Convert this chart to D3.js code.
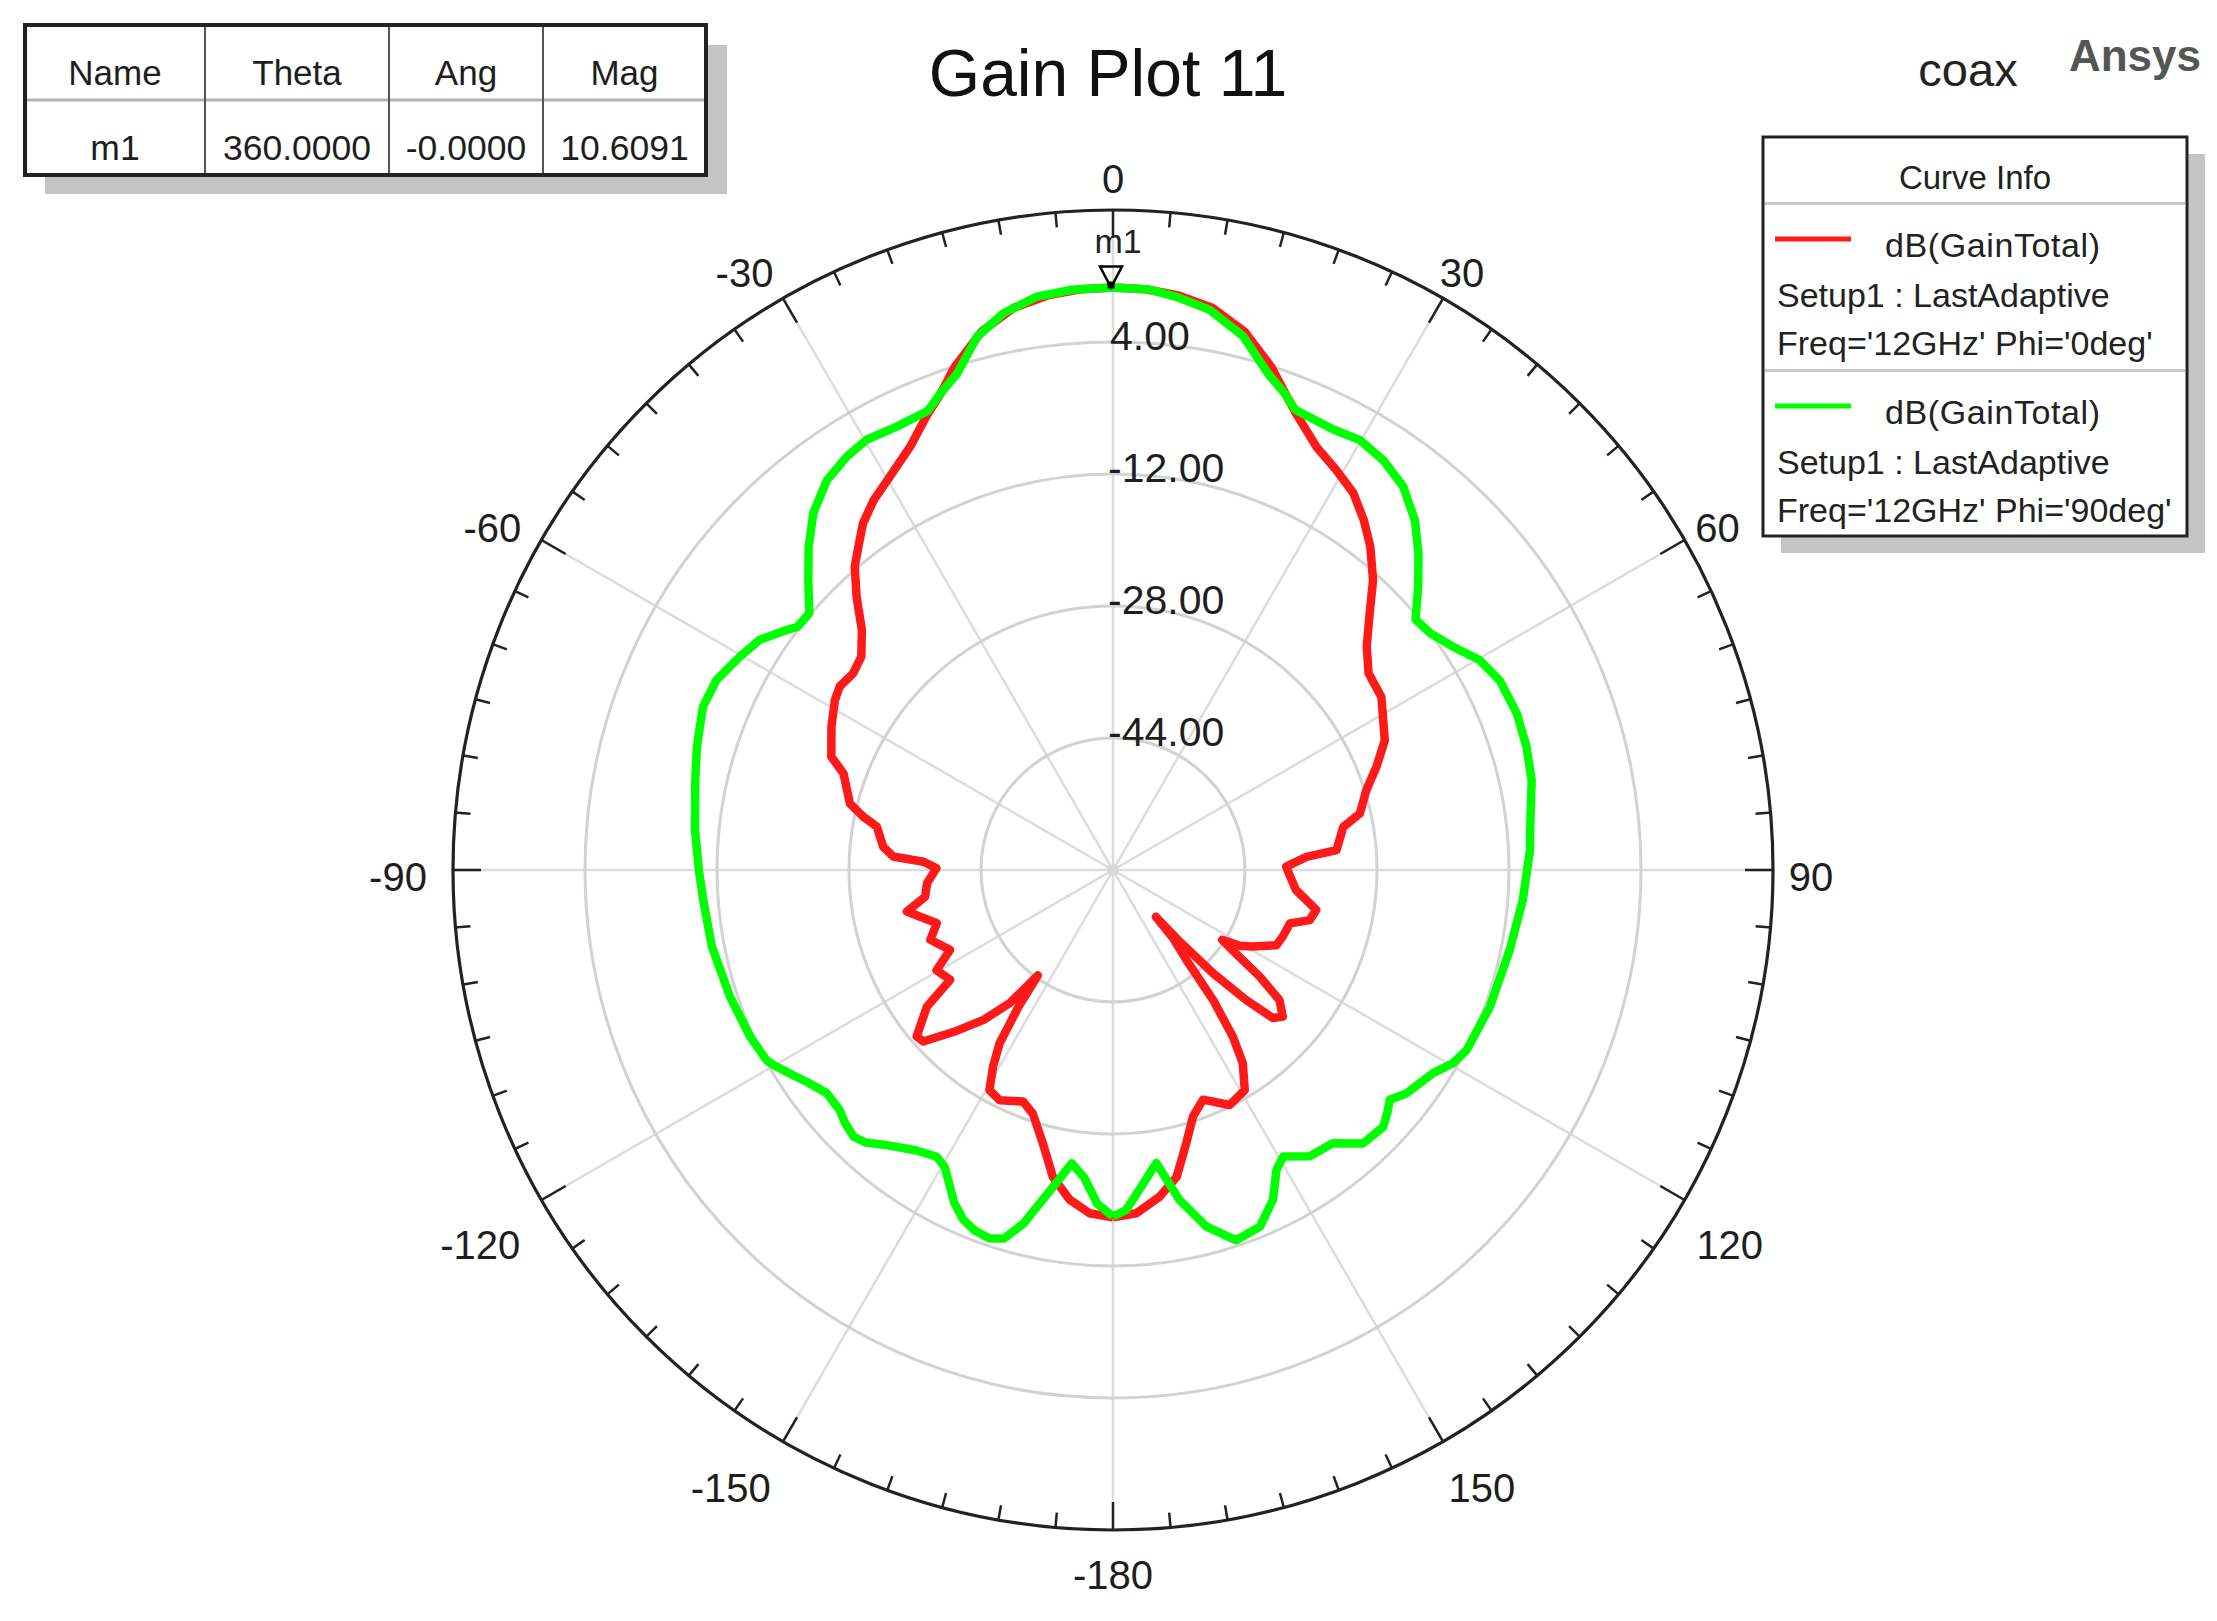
<!DOCTYPE html>
<html><head><meta charset="utf-8">
<script src="https://cdn.jsdelivr.net/npm/d3@7"></script>
<style>
html,body{margin:0;padding:0;background:#fff;}
svg{display:block;font-family:"Liberation Sans",Arial,Helvetica,sans-serif;}
</style>
</head><body>
<svg id="chart" width="2217" height="1621"></svg>
<script>
// ---------------- data ----------------
const chartTitle = "Gain Plot 11";
const designName = "coax";
const brandName = "Ansys";

const angleTicks  = [-180, -150, -120, -90, -60, -30, 0, 30, 60, 90, 120, 150];
const angleLabels = ["-180", "-150", "-120", "-90", "-60", "-30", "0", "30", "60", "90", "120", "150"];
const ringValues  = [-44, -28, -12, 4];
const ringLabels  = ["-44.00", "-28.00", "-12.00", "4.00"];
const radialDomain = [-60, 20];

// dB(GainTotal), Phi = 0deg  (red)
const thetaRed = [-180,-176.1,-172.5,-168.9,-165.6,-161.8,-158.8,-153.8,-150.7,-148.6,-146.8,-145.3,-144.5,-142.2,-139.2,-135.5,-132.1,-130.3,-126.3,-124.0,-119.6,-116.1,-110.9,-106.8,-101.4,-98.1,-94.1,-89.4,-87.5,-86.5,-84.2,-79.6,-78.0,-75.8,-70.3,-68.1,-63.0,-58.6,-56.1,-52.9,-49.7,-46.3,-43.2,-40.4,-38.2,-35.8,-32.9,-29.6,-25.6,-22.2,-20,-17.5,-13.7,-10,-6.5,-3.2,0,3.2,6.5,10,13.7,17.5,20,22,25.7,29.2,32.5,35.6,38.5,41.9,45.0,48.6,52.4,57.2,64.5,68.6,72.5,77.1,79.4,84.9,86.1,88.9,91.6,96.2,101.1,104.3,106.8,111.4,114.7,118.7,121.0,122.6,124.2,126.0,128.0,130.8,132.8,134.3,135.9,137.0,137.5,138.6,140.8,142.4,144.3,146.1,149.1,153.6,158.6,162.0,165.0,168.3,171.9,176.1,180];
const gainRed = [-17.9,-18.3,-19.7,-22.1,-25.8,-28.9,-29.9,-28.9,-29.4,-32.1,-34.9,-40.0,-44.3,-39.6,-36.0,-32.5,-29.0,-28.8,-32.0,-36.2,-35.4,-38.0,-36.3,-37.7,-34.5,-37.0,-37.4,-38.6,-37.0,-33.3,-32.0,-30.9,-29.1,-27.1,-25.3,-23.2,-21.7,-20.5,-20.1,-20.5,-20.0,-17.9,-14.6,-11.7,-10.1,-8.2,-6.6,-5.2,-3.1,-0.4,1.3,3.9,7.2,9.2,10.1,10.5,10.6,10.5,10.1,9.2,7.2,3.9,1.3,-0.5,-3.1,-4.5,-5.8,-7.8,-9.9,-12.8,-16.0,-19.0,-20.9,-21.3,-23.5,-25.7,-27.8,-29.3,-31.6,-32.8,-36.5,-39.0,-38.6,-37.7,-34.9,-35.4,-37.6,-37.9,-38.2,-40.7,-42.2,-44.3,-42.0,-38.0,-34.4,-32.8,-33.6,-37.4,-42.6,-48.0,-52.3,-49.0,-45.9,-40.1,-35.1,-31.8,-28.9,-28.2,-30.1,-28.6,-25.7,-22.0,-20.0,-18.3,-17.9];

// dB(GainTotal), Phi = 90deg  (green)
const thetaGreen = [-180,-177.3,-174.6,-172.0,-169.3,-165.8,-163.5,-161.5,-159.0,-156.8,-154.5,-152.8,-150.5,-148.4,-145.0,-142.5,-140.1,-137.8,-135.8,-133.5,-131.3,-127.9,-125.0,-122.2,-120.0,-118.8,-114.7,-108.3,-100.8,-94.2,-90.0,-84.5,-77.8,-73.5,-68.3,-64.4,-60.2,-56.9,-53.5,-52.4,-49.8,-46.4,-43.3,-40.0,-36.3,-32.8,-29.8,-26.0,-22.0,-19.8,-17.5,-14.3,-11.1,-7.6,-4.0,0,3.5,6.3,9.8,13.7,17.4,19.8,21.6,26.5,29.9,33.4,37.1,40.8,44.0,47.1,50.4,53.3,56.7,60.2,63.9,68.8,73.4,77.9,84.5,87.3,94.2,101.4,109.9,117.0,119.6,122.4,127.3,129.7,131.5,133.6,137.6,141.2,145.5,149.3,151.4,154.1,157.6,161.6,165.3,168.6,171.6,174.5,177.8,180];
const gainGreen = [-18.0,-19.5,-22.6,-24.1,-20.9,-15.8,-13.4,-12.9,-13.2,-13.9,-15.3,-16.8,-18.6,-19.2,-18.5,-17.6,-16.6,-15.4,-14.9,-15.3,-15.9,-16.0,-15.0,-13.7,-12.6,-12.1,-11.6,-11.1,-10.5,-10.2,-9.8,-9.1,-8.2,-7.4,-6.5,-6.7,-7.9,-8.9,-11.0,-11.7,-11.8,-9.0,-6.2,-3.5,-1.4,-0.4,0.1,-0.2,0.0,1.5,3.0,6.7,8.8,10.1,10.5,10.6,10.5,9.9,8.9,6.6,3.0,1.4,0.0,-0.3,0.1,-0.5,-1.7,-4.0,-6.7,-9.5,-12.4,-12.0,-10.7,-8.8,-7.8,-7.5,-7.7,-8.1,-9.2,-9.4,-10.2,-10.95,-11.4,-11.9,-12.6,-14.05,-15.3,-16.4,-15.6,-14.8,-15.1,-17.5,-17.9,-19.6,-18.6,-15.6,-13.25,-12.7,-15.3,-19.2,-24.1,-21.8,-18.75,-18.0];

const seriesNames  = ["dB(GainTotal)", "dB(GainTotal)"];
const seriesSetup  = ["Setup1 : LastAdaptive", "Setup1 : LastAdaptive"];
const seriesFreq   = ["Freq='12GHz' Phi='0deg'", "Freq='12GHz' Phi='90deg'"];
const seriesColors = ["#ff1a1a", "#00ff00"];

const tableHeaders = ["Name", "Theta", "Ang", "Mag"];
const tableRow     = ["m1", "360.0000", "-0.0000", "10.6091"];
const markerName = "m1";
const markerTheta = 0;
const markerGain = 10.6091;

// ---------------- drawing ----------------
const svg = d3.select("#chart");
svg.append("rect").attr("width", 2217).attr("height", 1621).attr("fill", "#fff");

const cx = 1113, cy = 870, R = 660;
const rScale = d3.scaleLinear().domain(radialDomain).range([0, R]);
const aScale = d3.scaleLinear().domain([-180, 180]).range([-Math.PI, Math.PI]);
const px = (deg, rad) => rad * Math.sin(aScale(deg));
const py = (deg, rad) => -rad * Math.cos(aScale(deg));

const g = svg.append("g").attr("transform", `translate(${cx},${cy})`);

// spokes every 30 deg
const spokeAngles = d3.range(-180, 180, 30);
g.selectAll("line.spoke").data(spokeAngles).join("line")
  .attr("class", "spoke")
  .attr("x1", 0).attr("y1", 0)
  .attr("x2", d => px(d, R)).attr("y2", d => py(d, R))
  .attr("stroke", "#dcdcdc").attr("stroke-width", 2.5);

// rings
g.selectAll("circle.ring").data(ringValues).join("circle")
  .attr("class", "ring").attr("r", d => rScale(d))
  .attr("fill", "none").attr("stroke", "#d2d2d2").attr("stroke-width", 3);

g.append("circle").attr("r", 6).attr("fill", "#d8d8d8");

// outer circle
g.append("circle").attr("r", R).attr("fill", "none")
  .attr("stroke", "#222").attr("stroke-width", 3.2);

// ticks every 5 deg
const tickAngles = d3.range(-180, 180, 5);
g.selectAll("line.tick").data(tickAngles).join("line")
  .attr("class", "tick")
  .attr("x1", d => px(d, R + 1)).attr("y1", d => py(d, R + 1))
  .attr("x2", d => px(d, R - (d % 30 === 0 ? 28 : 15)))
  .attr("y2", d => py(d, R - (d % 30 === 0 ? 28 : 15)))
  .attr("stroke", "#222").attr("stroke-width", 2.5);

// angle labels (placed just outside the outer circle, pushed out by their own box)
const labelPos = (d, i) => {
  const t = aScale(d);
  let s = Math.sin(t), c = Math.cos(t);
  if (Math.abs(s) < 1e-9) s = 0;
  if (Math.abs(c) < 1e-9) c = 0;
  const lab = angleLabels[i];
  const neg = lab.startsWith("-");
  const halfW = lab.length * 11 - (neg ? 4 : 0);
  const halfH = 15;
  const low = Math.max(0, -c);
  let x = 676 * s + halfW * s + Math.sign(s) * 22 * Math.pow(low, 3);
  let y = -676 * c - halfH * c + 14 * (1 - c) / 2 + 58 * low * Math.pow(Math.abs(s), 3);
  if (neg && s !== 0) x -= 10 + (c > 0.7 ? 6 : 0);
  return [x, y];
};
g.selectAll("text.alabel").data(angleTicks).join("text")
  .attr("class", "alabel")
  .attr("x", (d, i) => labelPos(d, i)[0])
  .attr("y", (d, i) => labelPos(d, i)[1])
  .attr("text-anchor", "middle").attr("dominant-baseline", "central")
  .attr("font-size", 40).attr("fill", "#1e1e1e")
  .text((d, i) => angleLabels[i]);

// radial labels
g.selectAll("text.rlabel").data(ringValues).join("text")
  .attr("class", "rlabel")
  .attr("x", (d, i) => ringLabels[i].startsWith("-") ? -5 : -3)
  .attr("y", d => -rScale(d) + 8)
  .attr("font-size", 41).attr("fill", "#1e1e1e")
  .text((d, i) => ringLabels[i]);

// curves
const radial = d3.lineRadial()
  .angle(d => aScale(d[0]))
  .radius(d => rScale(d[1]));

const redData = thetaRed.map((t, i) => [t, gainRed[i]]);
const greenData = thetaGreen.map((t, i) => [t, gainGreen[i]]);

g.append("path").datum(redData).attr("d", radial)
  .attr("fill", "none").attr("stroke", seriesColors[0]).attr("stroke-width", 8.5)
  .attr("stroke-linejoin", "round");
g.append("path").datum(greenData).attr("d", radial)
  .attr("fill", "none").attr("stroke", seriesColors[1]).attr("stroke-width", 8.5)
  .attr("stroke-linejoin", "round");

// marker
const mx = px(markerTheta, rScale(markerGain)), my = py(markerTheta, rScale(markerGain));
g.append("path")
  .attr("d", `M${mx - 13},${my - 21}L${mx + 9},${my - 21}L${mx - 2},${my}Z`)
  .attr("fill", "none").attr("stroke", "#000").attr("stroke-width", 2.5);
g.append("rect").attr("x", mx - 5.5).attr("y", my - 6).attr("width", 7).attr("height", 7).attr("fill", "#000");
g.append("text").attr("x", mx + 5).attr("y", my - 34)
  .attr("text-anchor", "middle").attr("font-size", 34).attr("fill", "#222")
  .text(markerName);

// title and corner texts
svg.append("text").attr("x", 1108).attr("y", 96).attr("text-anchor", "middle")
  .attr("font-size", 66).attr("fill", "#111").text(chartTitle);
svg.append("text").attr("x", 1968).attr("y", 86).attr("text-anchor", "middle")
  .attr("font-size", 47).attr("fill", "#222").text(designName);
svg.append("text").attr("x", 2135).attr("y", 71).attr("text-anchor", "middle")
  .attr("font-size", 44).attr("font-weight", "bold").attr("fill", "#555").text(brandName);

// marker table
const tb = svg.append("g");
const colEdges = [25, 205, 389, 543, 706];
tb.append("rect").attr("x", 45).attr("y", 45).attr("width", 682).attr("height", 149).attr("fill", "#c4c4c4");
tb.append("rect").attr("x", 25).attr("y", 25).attr("width", 681).attr("height", 150)
  .attr("fill", "#fff");
tb.append("line").attr("x1", 25).attr("x2", 706).attr("y1", 100).attr("y2", 100)
  .attr("stroke", "#b4b4b4").attr("stroke-width", 3);
tb.selectAll("line.col").data(colEdges.slice(1, -1)).join("line")
  .attr("class", "col").attr("x1", d => d).attr("x2", d => d).attr("y1", 25).attr("y2", 175)
  .attr("stroke", "#555").attr("stroke-width", 2);
tb.append("rect").attr("x", 25).attr("y", 25).attr("width", 681).attr("height", 150)
  .attr("fill", "none").attr("stroke", "#222").attr("stroke-width", 4);
tb.selectAll("text.hdr").data(tableHeaders).join("text")
  .attr("class", "hdr")
  .attr("x", (d, i) => (colEdges[i] + colEdges[i + 1]) / 2).attr("y", 85)
  .attr("text-anchor", "middle").attr("font-size", 35).attr("fill", "#1e1e1e").text(d => d);
tb.selectAll("text.val").data(tableRow).join("text")
  .attr("class", "val")
  .attr("x", (d, i) => (colEdges[i] + colEdges[i + 1]) / 2).attr("y", 160)
  .attr("text-anchor", "middle").attr("font-size", 35.5).attr("fill", "#1e1e1e").text(d => d);

// legend
const lg = svg.append("g");
const L = {x: 1763, y: 137, w: 424, h: 399};
lg.append("rect").attr("x", L.x + 18).attr("y", L.y + 17).attr("width", L.w).attr("height", L.h).attr("fill", "#c4c4c4");
lg.append("rect").attr("x", L.x).attr("y", L.y).attr("width", L.w).attr("height", L.h)
  .attr("fill", "#fff").attr("stroke", "#222").attr("stroke-width", 3);
lg.append("text").attr("x", 1975).attr("y", 189).attr("text-anchor", "middle")
  .attr("font-size", 33).attr("fill", "#222").text("Curve Info");
lg.selectAll("line.sep").data([203.5, 370.5]).join("line")
  .attr("class", "sep").attr("x1", L.x + 2).attr("x2", L.x + L.w - 2)
  .attr("y1", d => d).attr("y2", d => d).attr("stroke", "#c8c8c8").attr("stroke-width", 3);
const entryTop = [239, 406];
seriesNames.forEach((name, i) => {
  const y0 = entryTop[i];
  lg.append("line").attr("x1", 1775).attr("x2", 1851).attr("y1", y0).attr("y2", y0)
    .attr("stroke", seriesColors[i]).attr("stroke-width", 5);
  lg.append("text").attr("x", 1885).attr("y", y0 + 18).attr("font-size", 34)
    .attr("letter-spacing", 0.6).attr("fill", "#222").text(name);
  lg.append("text").attr("x", 1777).attr("y", y0 + 68).attr("font-size", 34).attr("fill", "#222").text(seriesSetup[i]);
  lg.append("text").attr("x", 1777).attr("y", y0 + 116).attr("font-size", 34).attr("fill", "#222").text(seriesFreq[i]);
});
</script>
</body></html>
